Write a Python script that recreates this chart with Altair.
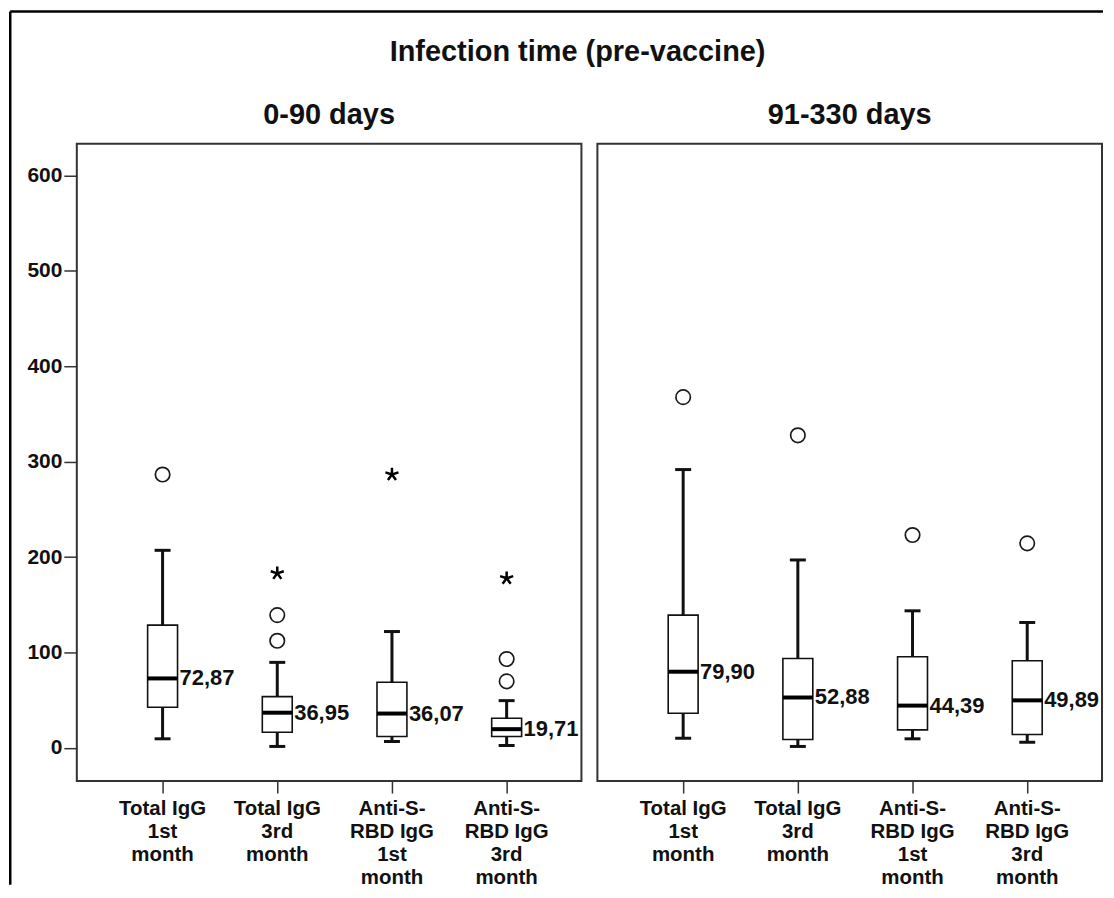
import altair as alt
import pandas as pd

# ---------------- data ----------------
panels = ["0-90 days", "91-330 days"]
categories = [
    "Total IgG\n1st\nmonth",
    "Total IgG\n3rd\nmonth",
    "Anti-S-\nRBD IgG\n1st\nmonth",
    "Anti-S-\nRBD IgG\n3rd\nmonth",
]

# panel 0-90 days
lower_a = [9.6, 1.6, 6.8, 2.6]
q1_a = [42.6, 16.5, 12.0, 12.0]
median_a = [72.87, 36.95, 36.07, 19.71]
q3_a = [128.7, 53.8, 68.8, 31.1]
upper_a = [207.1, 89.7, 122.0, 49.6]

# panel 91-330 days
lower_b = [10.2, 1.6, 9.6, 6.0]
q1_b = [36.4, 8.9, 19.0, 14.1]
median_b = [79.90, 52.88, 44.39, 49.89]
q3_b = [139.2, 93.8, 95.6, 91.4]
upper_b = [291.7, 197.0, 143.7, 131.5]

# outliers: (panel index, category index, value, kind)
outlier_panel = [0, 0, 0, 0, 0, 0, 0, 0, 1, 1, 1, 1]
outlier_cat = [0, 1, 1, 1, 2, 3, 3, 3, 0, 1, 2, 3]
outlier_value = [286.5, 139.2, 112.3, 183.0, 286.5, 93.2, 69.8, 177.8, 367.6, 327.6, 223.1, 214.4]
outlier_kind = ["circle", "circle", "circle", "star", "star", "circle", "circle", "star",
                "circle", "circle", "circle", "circle"]

y_ticks = [0, 100, 200, 300, 400, 500, 600]

# ---------------- table ----------------
rows = []
for p, (lo, a, m, b, up) in enumerate([(lower_a, q1_a, median_a, q3_a, upper_a),
                                       (lower_b, q1_b, median_b, q3_b, upper_b)]):
    for i, c in enumerate(categories):
        rows.append(dict(kind="box", panel=panels[p], cat=c, lower=lo[i], q1=a[i],
                         median=m[i], q3=b[i], upper=up[i]))
for p, i, v, k in zip(outlier_panel, outlier_cat, outlier_value, outlier_kind):
    rows.append(dict(kind=k, panel=panels[p], cat=categories[i], value=v))
rows.append(dict(kind="frame", panel=panels[0], cat=categories[0]))
df = pd.DataFrame(rows)

FONT = "Liberation Sans"
INK = "#111111"
EDGE = "#333333"

x_enc = alt.X(
    "cat:N",
    sort=categories,
    scale=alt.Scale(type="band", paddingInner=0.7, paddingOuter=0.55, align=0.5435),
    axis=alt.Axis(
        title=None, labelAngle=0, labelExpr="split(datum.label, '\\n')",
        labelFont=FONT, labelFontSize=20.5, labelFontWeight="bold", labelColor=INK,
        labelLineHeight=23, labelPadding=6, tickSize=12, tickWidth=1.5,
        tickColor=EDGE, domain=False, labelBaseline="top",
    ),
)
y_scale = alt.Scale(domain=[-34.7, 633], nice=False, zero=False)
y_axis = alt.Axis(
    title=None, values=y_ticks, labelFont=FONT, labelFontSize=21, labelFontWeight="bold",
    labelColor=INK, tickSize=13, tickWidth=1.5, tickColor=EDGE, domain=False,
    grid=False, labelPadding=2,
)

box_f = alt.datum.kind == "box"

whisker = alt.Chart().mark_rule(color=INK, strokeWidth=3, opacity=1).encode(
    x=x_enc, y=alt.Y("lower:Q", scale=y_scale, axis=y_axis), y2="upper:Q"
).transform_filter(box_f)

box = alt.Chart().mark_bar(size=30, fill="white", stroke=INK, strokeWidth=1.6, opacity=1).encode(
    x=x_enc, y=alt.Y("q1:Q", scale=y_scale), y2="q3:Q"
).transform_filter(box_f)

cap_hi = alt.Chart().mark_tick(size=16, thickness=3, color=INK, opacity=1).encode(
    x=x_enc, y=alt.Y("upper:Q", scale=y_scale)
).transform_filter(box_f)

cap_lo = alt.Chart().mark_tick(size=16, thickness=3, color=INK, opacity=1).encode(
    x=x_enc, y=alt.Y("lower:Q", scale=y_scale)
).transform_filter(box_f)

med = alt.Chart().mark_tick(size=30, thickness=4, color="black", opacity=1).encode(
    x=x_enc, y=alt.Y("median:Q", scale=y_scale)
).transform_filter(box_f)

med_label = alt.Chart().mark_text(
    align="left", baseline="middle", dx=17, font=FONT, fontSize=22, fontWeight="bold", color=INK
).encode(
    x=x_enc, y=alt.Y("median:Q", scale=y_scale), text="lbl:N"
).transform_filter(box_f).transform_calculate(
    lbl="replace(format(datum.median, '.2f'), '.', ',')"
)

circles = alt.Chart().mark_point(
    shape="circle", filled=False, size=210, strokeWidth=1.7, color="#1a1a1a", opacity=1
).encode(x=x_enc, y=alt.Y("value:Q", scale=y_scale)).transform_filter(alt.datum.kind == "circle")

STAR = "M0,0L0,-1M0,0L0.951,-0.309M0,0L0.588,0.809M0,0L-0.588,0.809M0,0L-0.951,-0.309"
stars = alt.Chart().mark_point(
    shape=STAR, filled=False, size=190, strokeWidth=2.5, color="black", opacity=1
).encode(x=x_enc, y=alt.Y("value:Q", scale=y_scale)).transform_filter(alt.datum.kind == "star")

frame_f = alt.datum.kind == "frame"
frame_left = alt.Chart().mark_rule(color="black", strokeWidth=2.5).encode(
    x=alt.value(-66.75), y=alt.value(-132.75), y2=alt.value(743)
).transform_filter(frame_f)
frame_top = alt.Chart().mark_rule(color="black", strokeWidth=2.5).encode(
    x=alt.value(-66.75), x2=alt.value(1029), y=alt.value(-132.75)
).transform_filter(frame_f)

layered = alt.layer(
    whisker, box, cap_hi, cap_lo, med, med_label, circles, stars, frame_left, frame_top,
    data=df,
).properties(width=506, height=639)

chart = layered.facet(
    column=alt.Column(
        "panel:N", sort=panels,
        header=alt.Header(title=None, labelFont=FONT, labelFontSize=29, labelFontWeight="bold",
                          labelColor=INK, labelPadding=14),
    ),
    spacing=16,
    bounds="flush",
).properties(
    title=alt.TitleParams(
        "Infection time (pre-vaccine)", font=FONT, fontSize=29, fontWeight="bold", color=INK,
        anchor="middle", frame="bounds", baseline="top", offset=-58, dx=21,
    ),
    padding={"left": 0, "top": 0, "right": 0, "bottom": 0},
).configure(
    background="white",
    style={"cell": {"stroke": EDGE, "strokeWidth": 2}},
).configure_view(
    stroke=EDGE, strokeWidth=2
)

chart.save("out.html", embed_options={"renderer": "svg", "actions": False})
